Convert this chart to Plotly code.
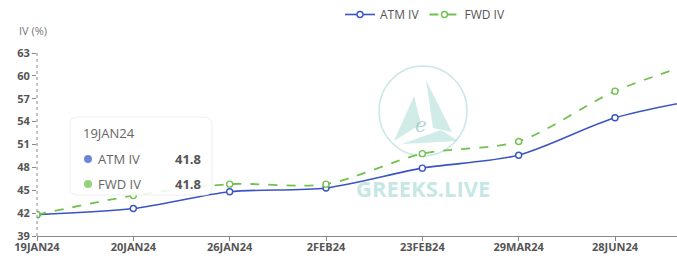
import plotly.graph_objects as go

dates = ["19JAN24", "20JAN24", "26JAN24", "2FEB24", "23FEB24", "29MAR24", "28JUN24", "27SEP24"]
atm_iv = [41.8, 42.6, 44.8, 45.3, 47.9, 49.6, 54.5, 57.2]
fwd_iv = [41.8, 44.3, 45.8, 45.8, 49.8, 51.4, 58.0, 62.4]

ATM_C = "#3a55c1"
FWD_C = "#72c04e"

W, H = 677, 271
L, R, T, B = 37, 0, 53, 35
PW, PH = W - L - R, H - T - B

def px(x):
    return (x - L) / PW

def py(y):
    return (H - B - y) / PH

fig = go.Figure()
fig.add_trace(go.Scatter(
    x=dates, y=atm_iv, name="ATM IV", mode="lines+markers",
    line=dict(color=ATM_C, width=1.6, shape="spline", smoothing=0.8),
    marker=dict(symbol="circle", size=6, color="white", line=dict(color=ATM_C, width=1.4)),
))
fig.add_trace(go.Scatter(
    x=dates, y=fwd_iv, name="FWD IV", mode="lines+markers",
    line=dict(color=FWD_C, width=1.8, dash="dash", shape="spline", smoothing=0.8),
    marker=dict(symbol="circle", size=6, color="white", line=dict(color=FWD_C, width=1.4)),
))

shapes = []
annotations = []

def ann(text, x, y, xanchor="center", size=13, color="#666", family="Open Sans"):
    annotations.append(dict(text=text, xref="paper", yref="paper", x=px(x), y=py(y),
                            xanchor=xanchor, yanchor="middle", showarrow=False,
                            font=dict(size=size, color=color, family=family)))

# watermark
wm = "rgba(150,210,205,0.45)"
shapes.append(dict(type="circle", xref="paper", yref="paper",
                   x0=px(379), x1=px(467), y0=py(156), y1=py(66),
                   line=dict(color="rgba(150,210,205,0.5)", width=1.5), layer="below"))
def tri(pts):
    p = "M " + " L ".join(f"{px(a):.4f},{py(b):.4f}" for a, b in pts) + " Z"
    return dict(type="path", xref="paper", yref="paper", path=p,
                fillcolor=wm, line=dict(width=0), layer="below")
shapes.append(tri([(426, 80), (452, 132), (433, 128)]))
shapes.append(tri([(414, 96), (394, 141), (421, 124)]))
shapes.append(tri([(402, 144), (458, 141), (441, 130)]))
ann("<i>e</i>", 421, 125, size=20, color="rgba(130,190,185,0.6)", family="DejaVu Serif")
ann("<b>GREEKS.LIVE</b>", 423, 188, size=22, color="rgba(160,215,210,0.6)", family="Open Sans")

# crosshair / y axis dotted line
shapes.append(dict(type="line", xref="paper", yref="paper", x0=0, x1=0, y0=0, y1=1,
                   line=dict(color="#888", width=1, dash="dot")))

# tooltip
x0, x1, y0, y1, r = px(70), px(212), py(195), py(117), 0.012
ry = r * PW / PH
path = (f"M {x0+r},{y1} L {x1-r},{y1} Q {x1},{y1} {x1},{y1-ry} L {x1},{y0+ry} Q {x1},{y0} {x1-r},{y0} "
        f"L {x0+r},{y0} Q {x0},{y0} {x0},{y0+ry} L {x0},{y1-ry} Q {x0},{y1} {x0+r},{y1} Z")
shapes.append(dict(type="path", xref="paper", yref="paper", path=path,
                   fillcolor="rgba(255,255,255,0.88)", line=dict(color="#eeeeee", width=1), layer="above"))
ann(dates[0], 81, 133, xanchor="left")
for row_y, name, col, val in [(159, "ATM IV", "#6f86d8", atm_iv[0]), (184, "FWD IV", "#98d17c", fwd_iv[0])]:
    shapes.append(dict(type="circle", xref="paper", yref="paper",
                       x0=px(84), x1=px(92), y0=py(row_y + 4), y1=py(row_y - 4),
                       fillcolor=col, line=dict(width=0), layer="above"))
    ann(name, 96, row_y, xanchor="left")
    ann(f"<b>{val:.1f}</b>", 203, row_y, xanchor="right", color="#555")

# y axis title
ann("IV (%)", 17, 30, xanchor="left", size=11, color="#777")

fig.update_layout(
    width=W, height=H,
    margin=dict(l=L, r=R, t=T, b=B),
    paper_bgcolor="white", plot_bgcolor="white",
    showlegend=True,
    legend=dict(orientation="h", x=px(340), y=py(0), xanchor="left", yanchor="top",
                font=dict(size=12, color="#555", family="Open Sans"),
                itemwidth=30, bgcolor="rgba(0,0,0,0)"),
    xaxis=dict(type="category", range=[0, (W - L) / ((615 - 37) / 6)],
               showgrid=False, zeroline=False, showline=True, linecolor="#888", linewidth=1,
               ticks="outside", ticklen=4, tickcolor="#888", ticklabelstandoff=-3,
               tickfont=dict(size=11, color="#555", family="Open Sans", weight="bold")),
    yaxis=dict(range=[39, 63], dtick=3, tick0=39, showgrid=False, zeroline=False, showline=False,
               ticks="outside", ticklen=4, tickcolor="#888",
               tickfont=dict(size=11, color="#555", family="Open Sans", weight="bold")),
    shapes=shapes, annotations=annotations,
    hovermode=False,
)

fig.write_html("out.html")
